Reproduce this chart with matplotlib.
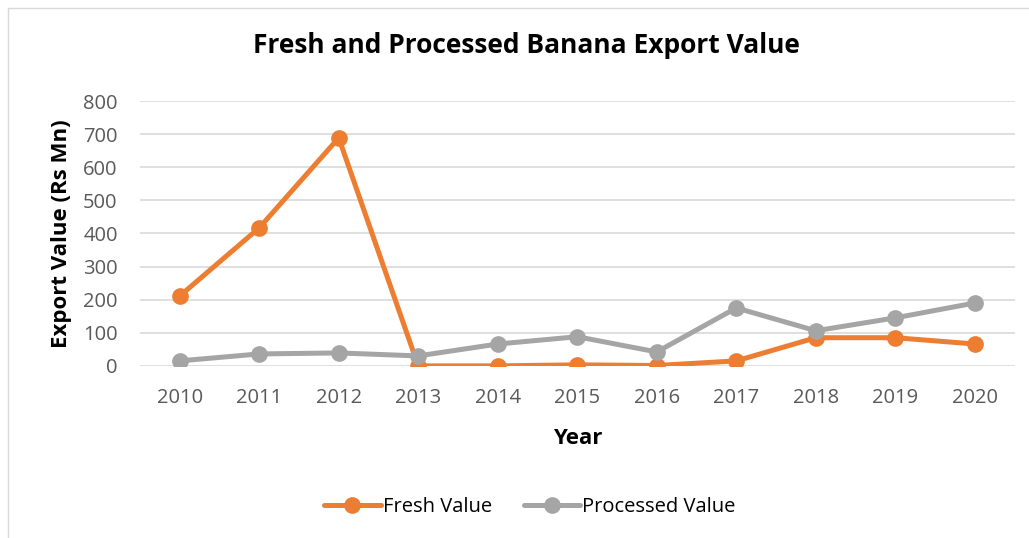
import matplotlib.pyplot as plt
from matplotlib.patches import Rectangle

plt.rcParams['font.family'] = ['Open Sans', 'DejaVu Sans']

years = ['2010', '2011', '2012', '2013', '2014', '2015', '2016', '2017', '2018', '2019', '2020']
fresh = [211, 417, 689, 0, 0, 3, 1, 15, 85, 85, 66]
processed = [15, 36, 39, 30, 66, 88, 42, 175, 106, 145, 190]

fig = plt.figure(figsize=(10.29, 5.38), dpi=100)
ax = fig.add_axes([0.136, 0.320, 0.850, 0.492])

# rand of the chart box
fig.patches.append(Rectangle((0.008, -0.01), 1.1, 0.995, transform=fig.transFigure,
                             fill=False, edgecolor='#d9d9d9', linewidth=1))

x = range(len(years))
ax.plot(x, fresh, color='#ed7d31', linewidth=3.6, marker='o', markersize=11,
        label='Fresh Value', solid_capstyle='round', zorder=3)
ax.plot(x, processed, color='#a5a5a5', linewidth=3.6, marker='o', markersize=11,
        label='Processed Value', solid_capstyle='round', zorder=3)

ax.set_xlim(-0.5, len(years) - 0.5)
ax.set_ylim(0, 800)
ax.set_yticks(range(0, 801, 100))
ax.set_xticks(list(x))
ax.set_xticklabels(years)
ax.grid(axis='y', color='#d9d9d9', linewidth=1.2, zorder=0)
ax.set_axisbelow(True)
for s in ax.spines.values():
    s.set_visible(False)
ax.tick_params(length=0, labelsize=14.5, labelcolor='#595959')
ax.tick_params(axis='x', pad=16)
ax.tick_params(axis='y', pad=16)

ax.set_xlabel('Year', fontsize=16, fontweight='bold', labelpad=14)
ax.set_ylabel('Export Value (Rs Mn)', fontsize=16, fontweight='bold', labelpad=8)
fig.suptitle('Fresh and Processed Banana Export Value', x=0.512, y=0.94,
             fontsize=19, fontweight='bold')

fig.legend(loc='center', bbox_to_anchor=(0.515, 0.058), ncol=2, frameon=False,
           fontsize=14.5, handlelength=2.8, columnspacing=1.6, handletextpad=0.1)

fig.savefig('out.png', dpi=100)
